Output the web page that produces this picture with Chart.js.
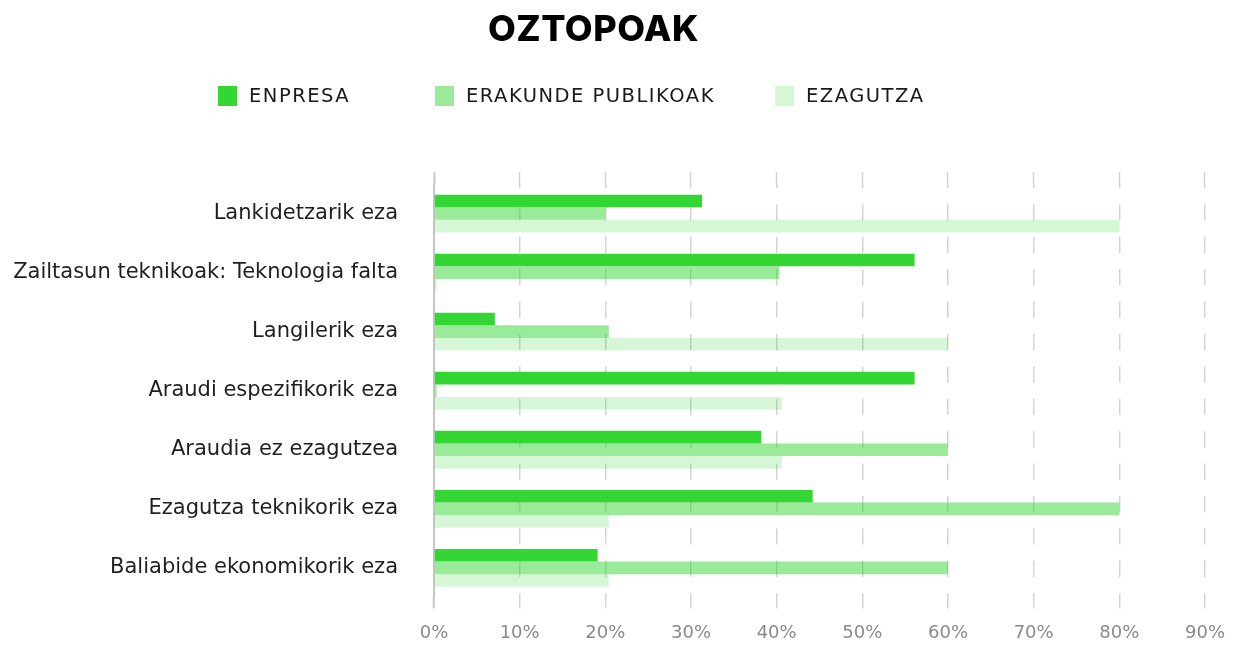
<!DOCTYPE html>
<html>
<head>
<meta charset="utf-8">
<script src="https://cdn.jsdelivr.net/npm/chart.js@4.4.1/dist/chart.umd.min.js"></script>
<style>
  html, body { margin: 0; padding: 0; background: #ffffff; }
  #wrap { position: relative; width: 1239px; height: 646px; overflow: hidden; }
  #chart { position: absolute; left: 0; top: 0; }
  #title { position: absolute; left: 0; top: 10px; width: 1187px; text-align: center;
           font-family: Inter, sans-serif; font-weight: 800; font-size: 36px; line-height: 36px;
           color: #000; letter-spacing: 0.5px; margin: 0; }
  .leg { position: absolute; top: 85px; height: 21px; display: flex; align-items: center;
         font-family: "DejaVu Sans", sans-serif; font-size: 19.5px; letter-spacing: 1.5px;
         color: #1a1a1a; white-space: nowrap; }
  .leg i { display: inline-block; width: 19px; height: 20px; margin-right: 12px; }
</style>
</head>
<body>
<div id="wrap">
  <canvas id="chart" width="1239" height="646"></canvas>
  <div id="title"></div>
  <div id="legend"></div>
</div>
<script>
const chartTitle = 'OZTOPOAK';
const categories = [
  'Lankidetzarik eza',
  'Zailtasun teknikoak: Teknologia falta',
  'Langilerik eza',
  'Araudi espezifikorik eza',
  'Araudia ez ezagutzea',
  'Ezagutza teknikorik eza',
  'Baliabide ekonomikorik eza'
];
const seriesNames = ['ENPRESA', 'ERAKUNDE PUBLIKOAK', 'EZAGUTZA'];
const enpresa   = [31.3, 56.1, 7.1, 56.1, 38.2, 44.2, 19.1];
const erakunde  = [20.0, 40.3, 20.4, 0.3, 60.0, 80.0, 60.0];
const ezagutza  = [80.0, 0.3, 60.0, 40.6, 40.6, 20.4, 20.4];
const xTicks = [0, 10, 20, 30, 40, 50, 60, 70, 80, 90];

const seriesColors = ['rgb(52,214,51)', 'rgba(52,214,51,0.5)', 'rgba(52,214,51,0.2)'];
const legendLeft = [218, 435, 775];

document.getElementById('title').textContent = chartTitle;
const legendEl = document.getElementById('legend');
seriesNames.forEach((name, i) => {
  const d = document.createElement('div');
  d.className = 'leg';
  d.style.left = legendLeft[i] + 'px';
  const sw = document.createElement('i');
  sw.style.background = seriesColors[i];
  d.appendChild(sw);
  d.appendChild(document.createTextNode(name));
  legendEl.appendChild(d);
});

const gridColor = '#d3d3d3';
const axisColor = '#c6c6c6';
const tickMarkColor = ctx => ctx.index === 0 ? axisColor : gridColor;
const tickMarkWidth = ctx => ctx.index === 0 ? 2 : 1.5;

new Chart(document.getElementById('chart'), {
  type: 'bar',
  data: {
    labels: categories,
    datasets: [
      { label: seriesNames[0], data: enpresa,  backgroundColor: seriesColors[0] },
      { label: seriesNames[1], data: erakunde, backgroundColor: seriesColors[1] },
      { label: seriesNames[2], data: ezagutza, backgroundColor: seriesColors[2] }
    ]
  },
  options: {
    indexAxis: 'y',
    responsive: false,
    animation: false,
    layout: { padding: { top: 172, right: 33, left: 0, bottom: 0 } },
    datasets: { bar: { categoryPercentage: 0.64, barPercentage: 1.0 } },
    plugins: {
      legend: { display: false },
      title: { display: false },
      tooltip: { enabled: false }
    },
    scales: {
      x: {
        position: 'bottom',
        min: 0, max: 90,
        afterBuildTicks: s => { s.ticks = xTicks.map(v => ({ value: v })); },
        ticks: {
          callback: v => v + '%',
          color: '#8a8a8a',
          font: { family: 'DejaVu Sans', size: 18 },
          padding: 14,
          maxRotation: 0
        },
        grid: {
          color: ctx => ctx.index === 0 ? 'rgba(0,0,0,0)' : gridColor,
          lineWidth: 1.5,
          tickLength: 11,
          tickColor: tickMarkColor,
          tickWidth: tickMarkWidth
        },
        border: { display: false, dash: [16.2, 16.2], dashOffset: 12 },
        afterFit: s => { s.height = 46; }
      },
      xTop: {
        axis: 'x',
        position: 'top',
        min: 0, max: 90,
        afterBuildTicks: s => { s.ticks = xTicks.map(v => ({ value: v })); },
        ticks: { display: false },
        grid: {
          drawOnChartArea: false,
          tickLength: 12,
          tickColor: tickMarkColor,
          tickWidth: tickMarkWidth
        },
        border: { display: false },
        afterFit: s => { s.height = 12; }
      },
      y: {
        grid: { display: false, drawTicks: false },
        border: { display: true, color: axisColor, width: 2 },
        ticks: {
          color: '#1f1f1f',
          font: { family: 'DejaVu Sans', size: 21 },
          padding: 36
        },
        afterFit: s => { s.width = 434; }
      }
    }
  }
});
</script>
</body>
</html>
